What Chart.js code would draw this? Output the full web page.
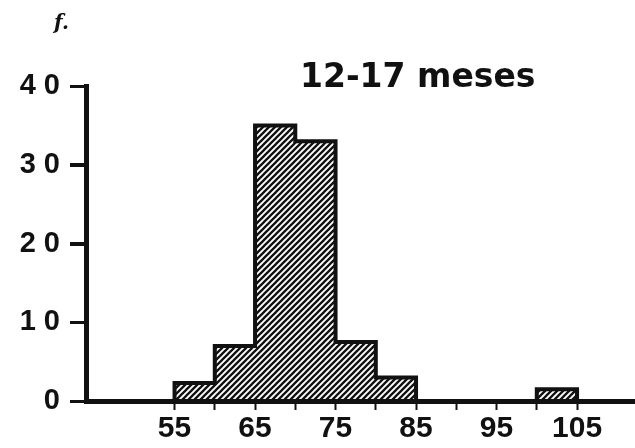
<!DOCTYPE html>
<html>
<head>
<meta charset="utf-8">
<script src="https://cdn.jsdelivr.net/npm/chart.js@4"></script>
<style>
  html, body { margin: 0; padding: 0; background: #fff; }
  #wrap { width: 635px; height: 448px; }
</style>
</head>
<body>
<div id="wrap"><canvas id="hist" width="635" height="448"></canvas></div>
<script>
// frequency histogram, class width 5
const binStarts = [55, 60, 65, 70, 75, 80, 85, 90, 95, 100];
const binWidth = 5;
const frequencies = [2.3, 7, 35, 33, 7.5, 3, 0, 0, 0, 1.5];

const xTickValues = [55, 60, 65, 70, 75, 80, 85, 90, 95, 100, 105];
const xTickLabels = ['55', '65', '75', '85', '95', '105'];
const yTickValues = [0, 10, 20, 30, 40];
const yTickLabels = ['0', '1 0', '2 0', '3 0', '4 0'];

const chartTitle = '12-17 meses';
const yAxisTitle = 'f.';

const ink = '#111';
const yTickLen = 16;

// diagonal hatch fill
function makeHatch() {
    const s = 6;
    const c = document.createElement('canvas');
    c.width = s;
    c.height = s;
    const g = c.getContext('2d');
    g.strokeStyle = ink;
    g.lineWidth = 2.3;
    g.beginPath();
    g.moveTo(-s, s * 2); g.lineTo(s * 2, -s);
    g.moveTo(-s, s); g.lineTo(s, -s);
    g.moveTo(0, s * 2); g.lineTo(s * 2, 0);
    g.stroke();
    return g.createPattern(c, 'repeat');
}

// histogram as a stepped line, filled down to zero
const outline = [{ x: binStarts[0], y: 0 }];
binStarts.forEach((b, i) => outline.push({ x: b, y: frequencies[i] }));
outline.push({ x: binStarts[binStarts.length - 1] + binWidth, y: 0 });

const textPlugin = {
    id: 'texts',
    afterDraw(chart) {
        const ctx = chart.ctx;
        const ys = chart.scales.y;
        ctx.save();
        // short ticks on the left of the vertical axis
        ctx.strokeStyle = ink;
        ctx.lineWidth = 3;
        ctx.beginPath();
        yTickValues.slice(1).forEach(v => {
            const py = Math.round(ys.getPixelForValue(v)) + 0.5;
            ctx.moveTo(ys.right - yTickLen, py);
            ctx.lineTo(ys.right, py);
        });
        ctx.stroke();

        ctx.fillStyle = ink;
        ctx.textBaseline = 'alphabetic';
        ctx.font = 'bold 33px "DejaVu Sans"';
        ctx.fillText(chartTitle, 300, 87);
        ctx.font = 'italic bold 20px "DejaVu Serif"';
        ctx.fillText(yAxisTitle, 54, 29);
        ctx.restore();
    }
};

new Chart(document.getElementById('hist'), {
    type: 'line',
    data: {
        datasets: [{
            data: outline,
            stepped: 'before',
            borderColor: ink,
            borderWidth: 4,
            borderJoinStyle: 'miter',
            backgroundColor: makeHatch(),
            fill: 'origin',
            pointRadius: 0
        }]
    },
    options: {
        responsive: false,
        animation: false,
        layout: { padding: { top: 86, left: 0, right: 0, bottom: 0 } },
        plugins: {
            legend: { display: false },
            tooltip: { enabled: false }
        },
        scales: {
            x: {
                type: 'linear',
                min: 44,
                max: 112.2,
                offset: false,
                afterBuildTicks: s => { s.ticks = xTickValues.map(v => ({ value: v })); },
                afterFit: s => { s.height = 47; },
                grid: {
                    offset: false,
                    drawOnChartArea: false,
                    tickLength: 9,
                    tickWidth: 2,
                    tickColor: ink
                },
                border: { display: true, color: ink, width: 5 },
                ticks: {
                    autoSkip: false,
                    maxRotation: 0,
                    padding: 1,
                    color: ink,
                    font: { family: '"Liberation Sans", Arial', size: 30, weight: 'bold' },
                    callback: v => xTickLabels.includes(String(v)) ? String(v) : ''
                }
            },
            y: {
                type: 'linear',
                min: yTickValues[0],
                max: yTickValues[yTickValues.length - 1],
                afterFit: s => { s.width = 86; },
                grid: {
                    drawOnChartArea: false,
                    tickLength: yTickLen,
                    tickWidth: 3,
                    tickColor: ink
                },
                border: { display: true, color: ink, width: 5 },
                ticks: {
                    stepSize: 10,
                    padding: 10,
                    color: ink,
                    font: { family: '"Liberation Sans", Arial', size: 29, weight: 'bold' },
                    callback: v => yTickLabels[yTickValues.indexOf(v)]
                }
            }
        }
    },
    plugins: [textPlugin]
});
</script>
</body>
</html>
